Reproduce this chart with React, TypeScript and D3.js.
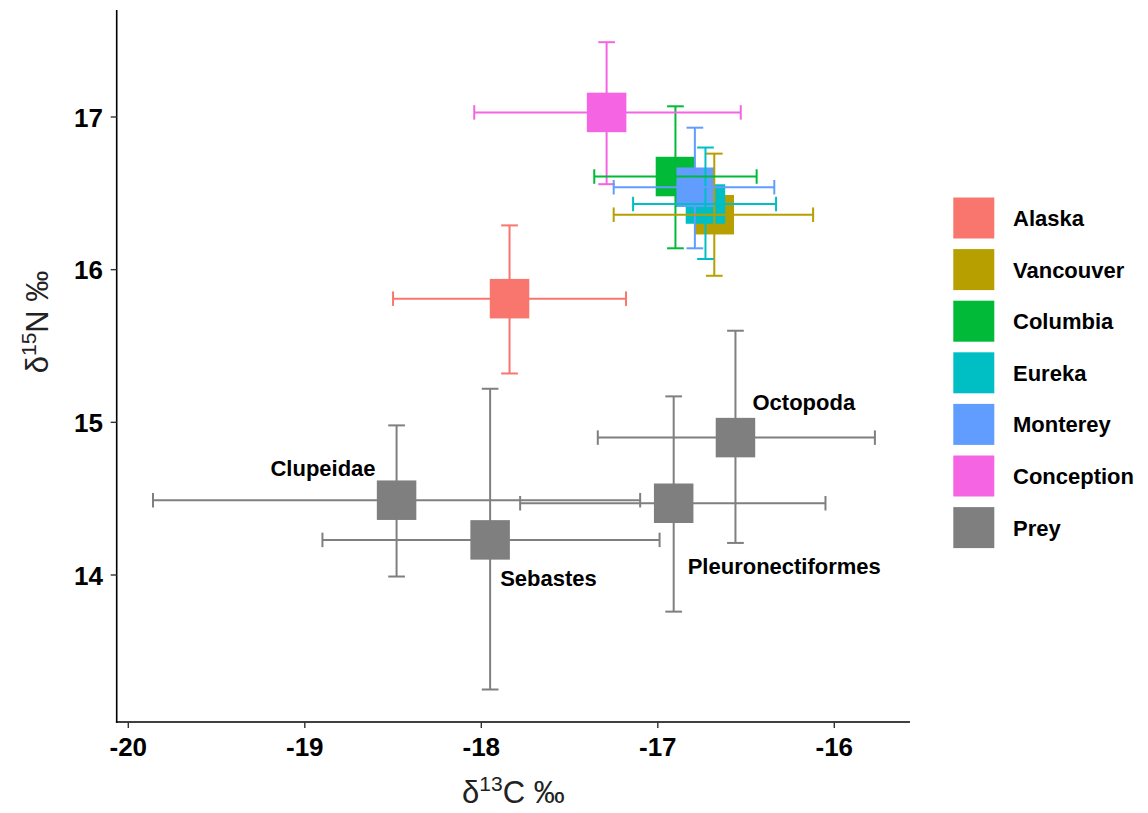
import React from "react";
import * as d3 from "d3";

// Predator (site) means with error ranges
const sites = ["Alaska", "Vancouver", "Columbia", "Eureka", "Monterey", "Conception"];
const siteC13 = [-17.84, -16.68, -16.9, -16.73, -16.79, -17.29];
const siteC13Low = [-18.5, -17.25, -17.36, -17.14, -17.25, -18.04];
const siteC13High = [-17.18, -16.12, -16.44, -16.33, -16.34, -16.53];
const siteN15 = [15.81, 16.36, 16.61, 16.43, 16.54, 17.03];
const siteN15Low = [15.32, 15.96, 16.14, 16.07, 16.14, 16.56];
const siteN15High = [16.29, 16.76, 17.07, 16.8, 16.93, 17.49];

// Prey taxa means with error ranges
const preyTaxa = ["Clupeidae", "Sebastes", "Pleuronectiformes", "Octopoda"];
const preyC13 = [-18.48, -17.95, -16.91, -16.56];
const preyC13Low = [-19.86, -18.9, -17.78, -17.34];
const preyC13High = [-17.1, -16.99, -16.05, -15.77];
const preyN15 = [14.49, 14.23, 14.47, 14.9];
const preyN15Low = [13.99, 13.25, 13.76, 14.21];
const preyN15High = [14.98, 15.22, 15.17, 15.6];

const xTicks = [-20, -19, -18, -17, -16];
const yTicks = [14, 15, 16, 17];

const legendLabels = [...sites, "Prey"];
const siteColors = ["#F8766D", "#B79F00", "#00BA38", "#00BFC4", "#619CFF", "#F564E3"];
const preyColor = "#7F7F7F";

// label placement relative to each prey point (pixels)
const preyLabelLayout = [
  { dx: -21, dy: -24, anchor: "end" },
  { dx: 10, dy: 46, anchor: "start" },
  { dx: 14, dy: 71, anchor: "start" },
  { dx: 17, dy: -28, anchor: "start" },
];

const FONT = "'Liberation Sans', Arial, Helvetica, sans-serif";

type Pt = {
  key: string;
  x: number;
  xl: number;
  xh: number;
  y: number;
  yl: number;
  yh: number;
  color: string;
};

export default function App() {
  const width = 1148;
  const height = 813;
  const panel = { left: 116.7, right: 910, top: 10, bottom: 722 };

  const x = d3.scaleLinear().domain([-20, -16]).range([128.3, 834.3]);
  const y = d3.scaleLinear().domain([14, 17]).range([575, 117]);

  const points: Pt[] = [
    ...sites.map((s, i) => ({
      key: s,
      x: siteC13[i],
      xl: siteC13Low[i],
      xh: siteC13High[i],
      y: siteN15[i],
      yl: siteN15Low[i],
      yh: siteN15High[i],
      color: siteColors[i],
    })),
    ...preyTaxa.map((s, i) => ({
      key: s,
      x: preyC13[i],
      xl: preyC13Low[i],
      xh: preyC13High[i],
      y: preyN15[i],
      yl: preyN15Low[i],
      yh: preyN15High[i],
      color: preyColor,
    })),
  ];

  const box = 39.5;
  const capW = 16.7;
  const capH = 14.5;
  const lw = 2;

  return (
    <svg
      width={width}
      height={height}
      style={{ position: "absolute", left: 0, top: 0, display: "block", background: "#fff" }}
    >
      {/* squares for means */}
      <g>
        {points.map((p) => (
          <rect
            key={"pt-" + p.key}
            x={x(p.x) - box / 2}
            y={y(p.y) - box / 2}
            width={box}
            height={box}
            fill={p.color}
          />
        ))}
      </g>
      {/* vertical error bars */}
      <g fill="none" strokeWidth={lw}>
        {points.map((p) => {
          const cx = x(p.x);
          return (
            <g key={"ve-" + p.key} stroke={p.color}>
              <line x1={cx} x2={cx} y1={y(p.yl)} y2={y(p.yh)} />
              <line x1={cx - capW / 2} x2={cx + capW / 2} y1={y(p.yl)} y2={y(p.yl)} />
              <line x1={cx - capW / 2} x2={cx + capW / 2} y1={y(p.yh)} y2={y(p.yh)} />
            </g>
          );
        })}
      </g>
      {/* horizontal error bars */}
      <g fill="none" strokeWidth={lw}>
        {points.map((p) => {
          const cy = y(p.y);
          return (
            <g key={"he-" + p.key} stroke={p.color}>
              <line x1={x(p.xl)} x2={x(p.xh)} y1={cy} y2={cy} />
              <line x1={x(p.xl)} x2={x(p.xl)} y1={cy - capH / 2} y2={cy + capH / 2} />
              <line x1={x(p.xh)} x2={x(p.xh)} y1={cy - capH / 2} y2={cy + capH / 2} />
            </g>
          );
        })}
      </g>

      {/* prey labels */}
      <g fontFamily={FONT} fontWeight="bold" fontSize={22} fill="#000">
        {preyTaxa.map((t, i) => (
          <text
            key={"lab-" + t}
            x={x(preyC13[i]) + preyLabelLayout[i].dx}
            y={y(preyN15[i]) + preyLabelLayout[i].dy}
            textAnchor={preyLabelLayout[i].anchor}
          >
            {t}
          </text>
        ))}
      </g>

      {/* axes */}
      <g stroke="#000" strokeWidth={1.6} fill="none">
        <line x1={panel.left} x2={panel.left} y1={panel.top} y2={panel.bottom + 0.8} />
        <line x1={panel.left - 0.8} x2={panel.right} y1={panel.bottom} y2={panel.bottom} />
      </g>
      <g stroke="#333" strokeWidth={1.4}>
        {xTicks.map((t) => (
          <line key={"xt" + t} x1={x(t)} x2={x(t)} y1={panel.bottom} y2={panel.bottom + 6} />
        ))}
        {yTicks.map((t) => (
          <line key={"yt" + t} x1={panel.left - 6} x2={panel.left} y1={y(t)} y2={y(t)} />
        ))}
      </g>
      <g fontFamily={FONT} fontWeight="bold" fontSize={26} fill="#000">
        {xTicks.map((t) => (
          <text key={"xl" + t} x={x(t)} y={756} textAnchor="middle">
            {String(t)}
          </text>
        ))}
        {yTicks.map((t) => (
          <text key={"yl" + t} x={103} y={y(t) + 9.5} textAnchor="end">
            {String(t)}
          </text>
        ))}
      </g>

      {/* axis titles */}
      <text
        x={(panel.left + panel.right) / 2}
        y={803}
        textAnchor="middle"
        fontFamily={FONT}
        fontSize={31}
        fill="#222"
      >
        δ<tspan fontSize={21} dy={-12}>13</tspan>
        <tspan dy={12}>C ‰</tspan>
      </text>
      <text
        transform={`translate(48, 322) rotate(-90)`}
        textAnchor="middle"
        fontFamily={FONT}
        fontSize={31}
        fill="#222"
      >
        δ<tspan fontSize={21} dy={-12}>15</tspan>
        <tspan dy={12}>N ‰</tspan>
      </text>

      {/* legend */}
      <g fontFamily={FONT} fontWeight="bold" fontSize={22}>
        {legendLabels.map((l, i) => {
          const cy = 218 + i * 51.6;
          const c = i < siteColors.length ? siteColors[i] : preyColor;
          return (
            <g key={"lg-" + l}>
              <rect x={953.3} y={cy - 20.5} width={41} height={41} fill={c} />
              <text x={1013} y={cy + 8} fill="#000">
                {l}
              </text>
            </g>
          );
        })}
      </g>
    </svg>
  );
}
